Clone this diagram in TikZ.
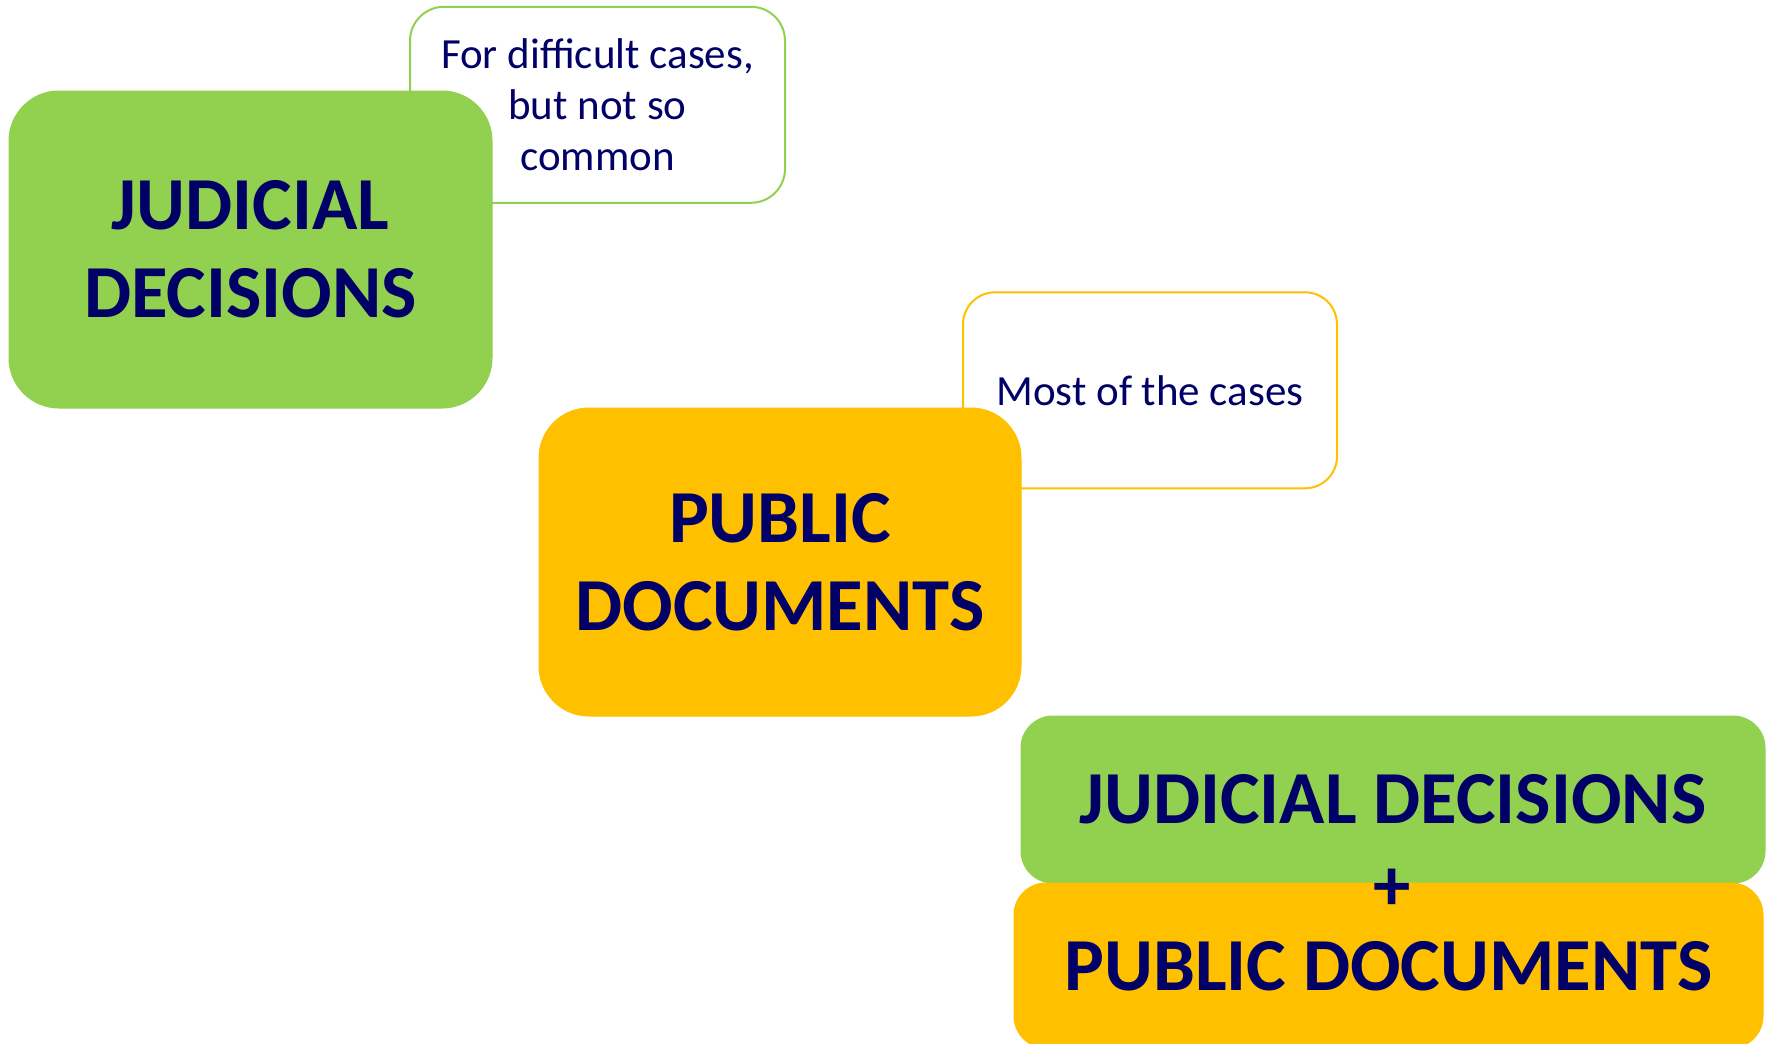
\documentclass[tikz,border=0pt]{standalone}
\usepackage{fontspec}
\setmainfont{Carlito}
\definecolor{lgreen}{HTML}{92D050}
\definecolor{lorange}{HTML}{FFC000}
\definecolor{navy}{HTML}{000066}
\newcommand{\bigtxt}{\fontsize{74.8}{88}\bfseries\selectfont}
\newcommand{\smalltxt}{\fontsize{43}{51}\selectfont}
\begin{document}
\begin{tikzpicture}[x=1pt,y=-1pt,
  mainbox/.style={fill=#1, draw=#1, line width=1pt, inner sep=0pt, align=center,
    text=navy, font=\bigtxt},
  callout/.style={fill=white, draw=#1, line width=2pt, inner sep=0pt, align=center,
    text=navy, font=\smalltxt},
  plustxt/.style={inner sep=0pt, text=navy, font=\bigtxt}]
\clip (0,0) rectangle (1767,1044);
\fill[white] (0,0) rectangle (1767,1044);
% callouts (behind)
\node[callout=lgreen, rounded corners=34pt, minimum width=375pt, minimum height=196pt]
  (c1) at (597.5,104.8) {For difficult cases,\\but not so\\common};
\node[callout=lorange, rounded corners=32pt, minimum width=374pt, minimum height=196pt]
  (c2) at (1150,390.3) {Most of the cases};
% main boxes
\node[mainbox=lgreen, rounded corners=50pt, minimum width=483pt, minimum height=317pt]
  (jd) at (250.5,249.5) {JUDICIAL\\DECISIONS};
\node[mainbox=lorange, rounded corners=50pt, minimum width=482pt, minimum height=308pt]
  (pd) at (780,562) {PUBLIC\\DOCUMENTS};
\node[mainbox=lgreen, rounded corners=32pt, minimum width=744pt, minimum height=167pt]
  (jd2) at (1393,799.5) {JUDICIAL DECISIONS};
\node[mainbox=lorange, rounded corners=32pt, minimum width=749pt, minimum height=165pt,
  text depth=0pt]
  (pd2) at (1388.5,965.5) {PUBLIC DOCUMENTS};
\node[plustxt] (plus) at (1392,890) {+};
\end{tikzpicture}
\end{document}
